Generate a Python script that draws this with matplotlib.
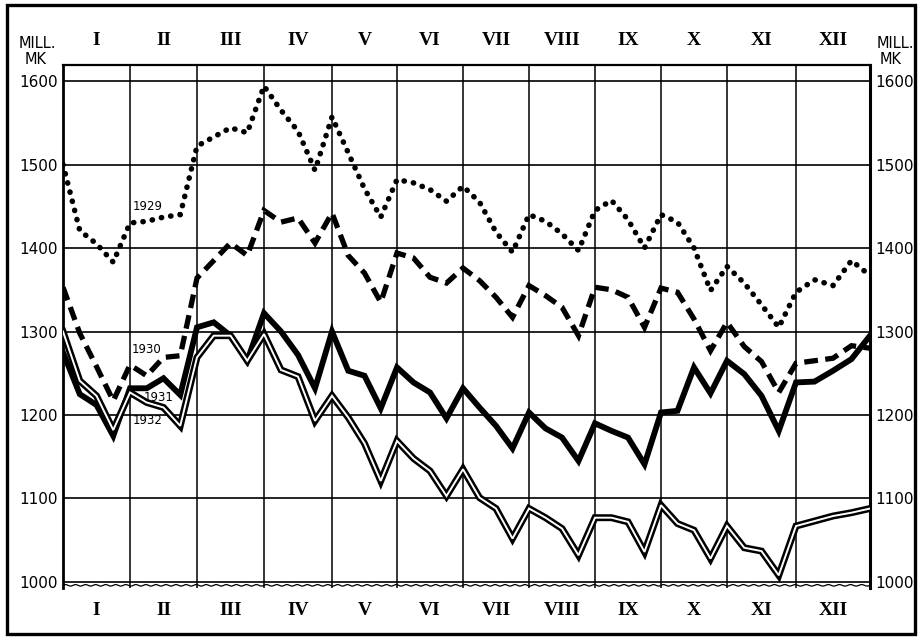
import numpy as np
import matplotlib
matplotlib.use("Agg")
import matplotlib.pyplot as plt
from matplotlib.patches import Rectangle

# ---------------- data ----------------
month_labels = ["I", "II", "III", "IV", "V", "VI", "VII", "VIII", "IX", "X", "XI", "XII"]
# weekly statements: 7th, 15th, 23rd and last day of each month (plus start of year)
week_pos = np.arange(49) / 4.0

y1929 = [1500,
         1421, 1405, 1383, 1430,
         1432, 1437, 1440, 1522,
         1533, 1544, 1538, 1594,
         1565, 1540, 1493, 1557,
         1514, 1471, 1437, 1482,
         1478, 1470, 1456, 1474,
         1455, 1419, 1395, 1440,
         1432, 1417, 1397, 1445,
         1457, 1434, 1400, 1440,
         1431, 1400, 1349, 1378,
         1358, 1332, 1305, 1347,
         1362, 1355, 1385, 1367]

y1930 = [1353,
         1298, 1258, 1217, 1260,
         1247, 1269, 1271, 1364,
         1385, 1406, 1391, 1445,
         1431, 1436, 1406, 1442,
         1391, 1370, 1335, 1394,
         1388, 1365, 1358, 1376,
         1361, 1341, 1317, 1355,
         1343, 1329, 1295, 1353,
         1350, 1341, 1305, 1352,
         1347, 1315, 1277, 1311,
         1282, 1264, 1227, 1262,
         1265, 1268, 1283, 1280]

y1931 = [1275,
         1225, 1212, 1175, 1232,
         1232, 1244, 1224, 1305,
         1311, 1295, 1265, 1322,
         1300, 1272, 1232, 1300,
         1253, 1247, 1208, 1257,
         1239, 1227, 1196, 1232,
         1209, 1187, 1160, 1203,
         1184, 1173, 1145, 1190,
         1181, 1173, 1141, 1203,
         1205, 1257, 1226, 1265,
         1249, 1223, 1181, 1239,
         1240, 1253, 1267, 1295]

y1932 = [1300,
         1241, 1223, 1182, 1227,
         1215, 1209, 1187, 1269,
         1295, 1295, 1265, 1297,
         1254, 1246, 1193, 1223,
         1197, 1166, 1121, 1169,
         1148, 1133, 1103, 1135,
         1101, 1088, 1052, 1088,
         1077, 1064, 1032, 1077,
         1077, 1072, 1036, 1092,
         1070, 1062, 1028, 1067,
         1041, 1037, 1008, 1067,
         1073, 1079, 1083, 1088]

y_ticks = [1000, 1100, 1200, 1300, 1400, 1500, 1600]

# ---------------- layout ----------------
W, H = 920, 638
fig = plt.figure(figsize=(W / 100, H / 100), dpi=100)
ax_l, ax_r, ax_t, ax_b = 63, 870, 65, 588
ax = fig.add_axes([ax_l / W, 1 - ax_b / H, (ax_r - ax_l) / W, (ax_b - ax_t) / H])

# month boundaries as drawn (slightly uneven in the original)
edge_px = np.array([63, 130, 197, 264, 332, 397, 463, 529, 595, 661, 727, 796, 870], float)
edge_frac = (edge_px - edge_px[0]) / (edge_px[-1] - edge_px[0])
edge_m = np.arange(13, dtype=float)


def fwd(x):
    return np.interp(x, edge_m, edge_frac)


def inv(x):
    return np.interp(x, edge_frac, edge_m)


ax.set_xscale('function', functions=(fwd, inv))
ax.set_xlim(0, 12)
ax.set_ylim(992.8, 1619.2)

# grid
for v in y_ticks:
    ax.axhline(v, color='black', lw=1.2, zorder=1)
ax.set_xticks(np.arange(1, 12), minor=True)
ax.grid(which='minor', axis='x', color='black', lw=1.1, zorder=1)
ax.tick_params(which='minor', length=0)

# bottom wavy break line
xw = np.linspace(0, 12, 1200)
ax.plot(xw, 996.0 + 0.9 * np.sin(xw * 2 * np.pi / 0.15), color='black', lw=0.9, zorder=2)

# series
ax.plot(week_pos, y1929, color='black', lw=4.0, linestyle=(0, (0.05, 1.65)),
        dash_capstyle='round', zorder=3)
ax.plot(week_pos, y1930, color='black', lw=3.8, linestyle=(0, (2.6, 1.4)),
        dash_capstyle='butt', dash_joinstyle='miter', zorder=3)
ax.plot(week_pos, y1931, color='black', lw=4.2, solid_joinstyle='miter', zorder=4)
ax.plot(week_pos, y1932, color='black', lw=5.0, solid_joinstyle='miter', zorder=5)
ax.plot(week_pos, y1932, color='white', lw=1.4, solid_joinstyle='miter', zorder=6)

# year labels
lab_kw = dict(fontsize=8.5, ha='center', va='center', family='DejaVu Sans', zorder=7)
ax.text(1.27, 1450, "1929", **lab_kw)
ax.text(1.24, 1279, "1930", **lab_kw)
ax.text(1.42, 1221, "1931", **lab_kw)
ax.text(1.27, 1193, "1932", **lab_kw)

# y tick labels both sides
ax.set_yticks(y_ticks)
ax.set_yticklabels([str(v) for v in y_ticks])
ax.tick_params(axis='y', which='major', length=0, labelsize=11, pad=4,
               labelleft=True, labelright=True)
for t in ax.get_yticklabels():
    t.set_family('DejaVu Sans')

# month labels top & bottom (as text in blended coords)
ax.set_xticks([])
ax_h = ax_b - ax_t
top_base = 1 + (ax_t - 45) / ax_h
bot_base = -(615 - ax_b) / ax_h
xform = ax.get_xaxis_transform()
for i, lab in enumerate(month_labels):
    for yb in (top_base, bot_base):
        ax.text(i + 0.5, yb, lab, transform=xform, ha='center', va='baseline',
                fontsize=14, family='Liberation Serif', weight='bold', clip_on=False)

# spines
ax.spines['bottom'].set_visible(False)
ax.spines['left'].set_linewidth(2.0)
ax.spines['right'].set_linewidth(2.2)
ax.spines['top'].set_linewidth(1.6)

# unit labels
ukw = dict(fontsize=10.5, ha='center', va='center', family='DejaVu Sans')
fig.text(37.5 / W, 1 - 43 / H, "MILL.", **ukw)
fig.text(36 / W, 1 - 60 / H, "MK", **ukw)
fig.text(895 / W, 1 - 43 / H, "MILL.", **ukw)
fig.text(891 / W, 1 - 60 / H, "MK", **ukw)

# outer frame
fig.patches.append(Rectangle((7 / W, 1 - 634 / H), (915 - 7) / W, (634 - 5) / H,
                             transform=fig.transFigure, fill=False, lw=2.4, edgecolor='black'))

fig.savefig("out.png", dpi=100)
